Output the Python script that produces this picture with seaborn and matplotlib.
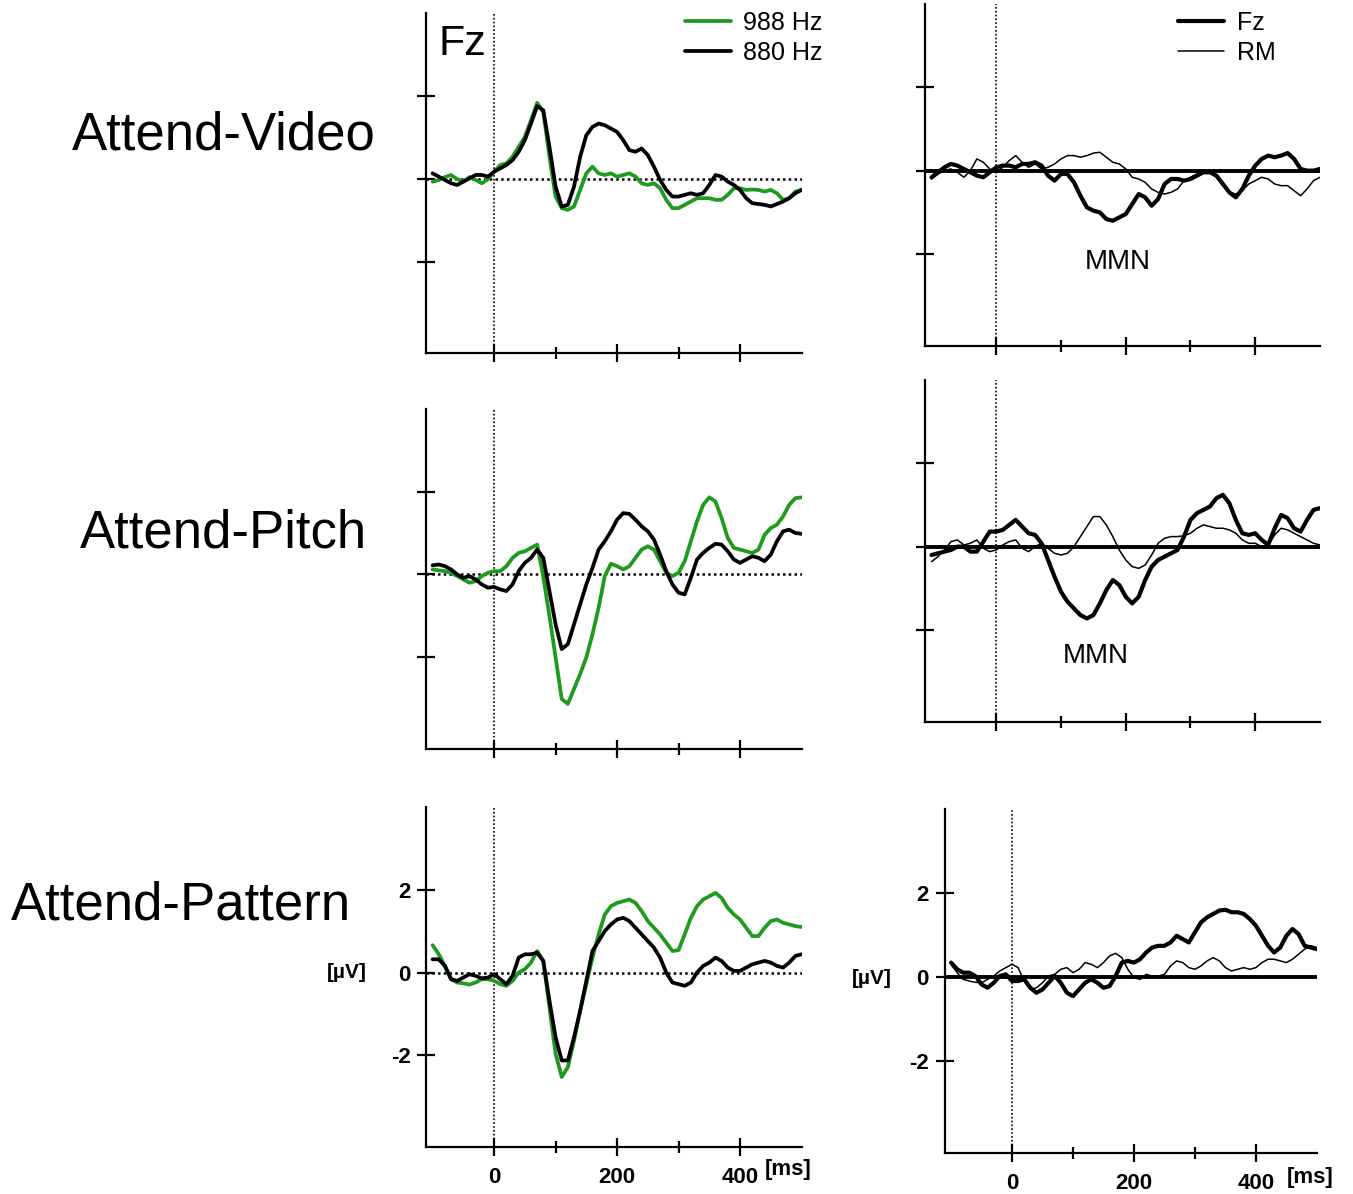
import numpy as np
import pandas as pd
import matplotlib
matplotlib.use("Agg")
import matplotlib.pyplot as plt
import seaborn as sns

# sampling grid of the read-off curves (ms)
times = np.arange(-100, 501, 10)

# Attend-Video, Fz, standard tones
video_988 = [-0.06, -0.02, 0.05, 0.10, 0.00, -0.06, 0.05, -0.02, -0.10, 0.00,
             0.18, 0.34, 0.38, 0.54, 0.78, 1.02, 1.42, 1.84, 1.62, 0.54,
             -0.42, -0.70, -0.74, -0.66, -0.26, 0.14, 0.30, 0.14, 0.10, 0.14,
             0.06, 0.10, 0.14, 0.06, -0.10, -0.14, -0.10, -0.22, -0.50, -0.70,
             -0.70, -0.62, -0.54, -0.46, -0.46, -0.46, -0.50, -0.50, -0.38, -0.22,
             -0.22, -0.26, -0.25, -0.26, -0.30, -0.26, -0.34, -0.50, -0.46, -0.30,
             -0.26]
video_880 = [0.14, 0.06, -0.02, -0.10, -0.14, -0.06, 0.02, 0.10, 0.10, 0.06,
             0.18, 0.26, 0.34, 0.46, 0.66, 0.94, 1.34, 1.76, 1.66, 0.78,
             -0.18, -0.66, -0.62, -0.18, 0.54, 1.06, 1.26, 1.34, 1.30, 1.22,
             1.14, 0.94, 0.70, 0.66, 0.74, 0.58, 0.30, -0.02, -0.26, -0.42,
             -0.42, -0.38, -0.34, -0.38, -0.34, -0.14, 0.10, 0.06, -0.06, -0.14,
             -0.26, -0.46, -0.58, -0.60, -0.62, -0.66, -0.60, -0.54, -0.46, -0.34,
             -0.26]

# Attend-Video, difference waves
video_fz = [-0.16, -0.04, 0.08, 0.16, 0.12, 0.04, -0.04, -0.12, -0.16, -0.04,
            0.08, 0.12, 0.12, 0.08, 0.16, 0.16, 0.20, 0.12, -0.12, -0.24,
            -0.08, -0.08, -0.28, -0.60, -0.88, -0.96, -1.00, -1.16, -1.20, -1.12,
            -1.04, -0.80, -0.56, -0.64, -0.84, -0.68, -0.32, -0.20, -0.20, -0.24,
            -0.20, -0.12, -0.04, -0.04, -0.12, -0.32, -0.52, -0.64, -0.44, -0.12,
            0.12, 0.28, 0.36, 0.32, 0.36, 0.42, 0.28, 0.04, 0.00, 0.00,
            0.04]
video_rm = [-0.20, -0.08, 0.00, 0.04, -0.04, -0.16, 0.00, 0.28, 0.20, 0.04,
            -0.04, 0.08, 0.24, 0.36, 0.20, 0.08, 0.16, 0.04, 0.08, 0.16,
            0.28, 0.36, 0.36, 0.32, 0.36, 0.42, 0.44, 0.32, 0.20, 0.16,
            0.04, -0.16, -0.20, -0.28, -0.44, -0.52, -0.56, -0.52, -0.44, -0.24,
            -0.16, -0.08, -0.04, -0.04, -0.16, -0.36, -0.52, -0.56, -0.48, -0.32,
            -0.24, -0.16, -0.20, -0.32, -0.36, -0.36, -0.48, -0.60, -0.44, -0.24,
            -0.16]

# Attend-Pitch, Fz, standard tones
pitch_988 = [0.12, 0.10, 0.08, 0.04, -0.04, -0.12, -0.20, -0.16, -0.04, 0.04,
             0.08, 0.08, 0.20, 0.40, 0.52, 0.56, 0.64, 0.72, -0.06, -1.00,
             -2.00, -3.00, -3.12, -2.76, -2.40, -2.00, -1.44, -0.80, -0.04, 0.26,
             0.20, 0.12, 0.20, 0.40, 0.60, 0.68, 0.60, 0.32, 0.04, -0.04,
             0.04, 0.32, 0.80, 1.28, 1.68, 1.86, 1.76, 1.36, 0.88, 0.64,
             0.60, 0.56, 0.52, 0.60, 0.96, 1.12, 1.20, 1.40, 1.68, 1.84,
             1.86]
pitch_880 = [0.22, 0.24, 0.20, 0.12, 0.00, -0.08, -0.04, -0.12, -0.24, -0.32,
             -0.30, -0.36, -0.40, -0.24, 0.08, 0.28, 0.40, 0.60, 0.40, -0.40,
             -1.20, -1.80, -1.68, -1.20, -0.72, -0.24, 0.16, 0.60, 0.80, 1.04,
             1.32, 1.48, 1.46, 1.32, 1.16, 1.04, 0.84, 0.48, 0.08, -0.24,
             -0.44, -0.48, -0.08, 0.36, 0.52, 0.64, 0.74, 0.72, 0.56, 0.36,
             0.28, 0.36, 0.44, 0.40, 0.32, 0.48, 0.80, 1.04, 1.08, 1.00,
             0.98]

# Attend-Pitch, difference waves
pitch_fz = [-0.20, -0.16, -0.12, -0.08, 0.00, 0.00, -0.12, -0.12, 0.12, 0.36,
            0.36, 0.40, 0.52, 0.64, 0.48, 0.32, 0.28, 0.08, -0.32, -0.72,
            -1.08, -1.32, -1.48, -1.64, -1.72, -1.64, -1.36, -1.04, -0.80, -0.92,
            -1.20, -1.36, -1.20, -0.80, -0.48, -0.32, -0.24, -0.16, -0.08, 0.24,
            0.64, 0.80, 0.88, 0.96, 1.16, 1.24, 1.04, 0.64, 0.32, 0.28,
            0.32, 0.16, 0.04, 0.44, 0.76, 0.68, 0.44, 0.36, 0.64, 0.88,
            0.92]
pitch_rm = [-0.36, -0.24, -0.08, 0.12, 0.16, 0.04, 0.08, 0.16, -0.04, -0.12,
            -0.08, 0.04, 0.12, 0.16, -0.04, -0.12, 0.00, 0.08, -0.04, -0.16,
            -0.20, -0.16, 0.00, 0.24, 0.48, 0.72, 0.72, 0.52, 0.24, -0.08,
            -0.32, -0.48, -0.52, -0.44, -0.20, 0.08, 0.20, 0.24, 0.24, 0.26,
            0.32, 0.44, 0.52, 0.48, 0.44, 0.44, 0.40, 0.32, 0.16, 0.08,
            0.08, 0.00, 0.04, 0.28, 0.44, 0.40, 0.32, 0.24, 0.16, 0.08,
            0.04]

# Attend-Pattern, Fz, standard tones
pattern_988 = [0.66, 0.44, 0.16, -0.16, -0.24, -0.26, -0.29, -0.24, -0.16, -0.16,
               -0.20, -0.28, -0.32, -0.20, 0.00, 0.08, 0.24, 0.52, 0.28, -0.84,
               -1.96, -2.52, -2.28, -1.64, -0.92, -0.28, 0.36, 0.92, 1.40, 1.60,
               1.68, 1.72, 1.76, 1.68, 1.48, 1.24, 1.08, 0.92, 0.72, 0.52,
               0.54, 0.92, 1.32, 1.60, 1.76, 1.84, 1.92, 1.80, 1.56, 1.40,
               1.28, 1.08, 0.88, 0.88, 1.08, 1.24, 1.28, 1.20, 1.16, 1.12,
               1.10]
pattern_880 = [0.32, 0.32, 0.16, -0.16, -0.20, -0.12, -0.04, -0.08, -0.14, -0.12,
               -0.04, -0.16, -0.28, -0.08, 0.36, 0.44, 0.44, 0.48, 0.28, -0.68,
               -1.56, -2.12, -2.12, -1.56, -0.92, -0.20, 0.52, 0.76, 1.00, 1.16,
               1.28, 1.32, 1.24, 1.08, 0.92, 0.76, 0.60, 0.36, 0.00, -0.24,
               -0.28, -0.32, -0.24, 0.00, 0.16, 0.24, 0.36, 0.28, 0.12, 0.04,
               0.04, 0.12, 0.20, 0.24, 0.28, 0.24, 0.16, 0.12, 0.24, 0.40,
               0.44]

# Attend-Pattern, difference waves
pattern_fz = [0.34, 0.18, 0.10, 0.10, 0.02, -0.18, -0.26, -0.14, 0.02, 0.06,
              -0.10, -0.10, -0.06, -0.26, -0.38, -0.30, -0.14, 0.02, -0.14, -0.38,
              -0.46, -0.30, -0.14, -0.06, -0.14, -0.26, -0.22, 0.02, 0.34, 0.38,
              0.34, 0.42, 0.58, 0.70, 0.74, 0.74, 0.82, 0.98, 0.90, 0.82,
              1.06, 1.30, 1.42, 1.50, 1.58, 1.60, 1.54, 1.54, 1.50, 1.38,
              1.22, 0.98, 0.74, 0.58, 0.70, 0.98, 1.14, 1.02, 0.74, 0.70,
              0.66]
pattern_rm = [0.30, 0.10, -0.06, -0.10, -0.13, -0.14, -0.06, 0.02, 0.14, 0.22,
              0.30, 0.22, -0.10, -0.30, -0.26, -0.14, 0.02, 0.06, 0.18, 0.22,
              0.10, 0.18, 0.34, 0.30, 0.22, 0.34, 0.50, 0.56, 0.46, 0.18,
              -0.02, -0.06, 0.06, 0.02, 0.02, 0.06, 0.26, 0.38, 0.34, 0.22,
              0.18, 0.26, 0.38, 0.46, 0.38, 0.22, 0.14, 0.18, 0.22, 0.18,
              0.22, 0.34, 0.42, 0.42, 0.38, 0.34, 0.42, 0.54, 0.66, 0.74,
              0.70]

row_names = ["Attend-Video", "Attend-Pitch", "Attend-Pattern"]
tone_labels = ["988 Hz", "880 Hz"]
site_labels = ["Fz", "RM"]
y_ticks = [-2, 0, 2]
x_major = [0, 200, 400]
x_minor = [100, 300]

GREEN = "#1f9a1f"

sns.set_theme(style="ticks")
plt.rcParams["font.family"] = ["Liberation Sans", "DejaVu Sans"]
plt.rcParams["text.color"] = "black"
plt.rcParams["axes.unicode_minus"] = False

fig = plt.figure(figsize=(13.53, 11.94), dpi=100)

# axes boxes in figure fraction [left, bottom, width, height]
left_boxes = [[0.3152, 0.7041, 0.2772, 0.2848],
              [0.3152, 0.3730, 0.2772, 0.2848],
              [0.3152, 0.0396, 0.2772, 0.2848]]
right_boxes = [[0.6837, 0.7102, 0.2919, 0.2868],
               [0.6837, 0.3953, 0.2919, 0.2868],
               [0.6984, 0.0343, 0.2749, 0.2881]]

tone_data = [(video_988, video_880), (pitch_988, pitch_880), (pattern_988, pattern_880)]
diff_data = [(video_fz, video_rm), (pitch_fz, pitch_rm), (pattern_fz, pattern_rm)]

legend_kw = dict(loc="upper left", bbox_transform=fig.transFigure, frameon=False,
                 fontsize=18, handlelength=1.85, handletextpad=0.5,
                 labelspacing=0.25, borderpad=0, borderaxespad=0)


def style_axes(ax, show_labels):
    ax.set_xlim(-110, 500)
    ax.set_ylim(-4.2, 4.0)
    sns.despine(ax=ax)
    for side in ["left", "bottom"]:
        ax.spines[side].set_linewidth(1.6)
        ax.spines[side].set_color("black")
    ax.set_xticks(x_major)
    ax.set_xticks(x_minor, minor=True)
    ax.set_yticks(y_ticks)
    ax.tick_params(axis="both", which="major", direction="inout", length=13,
                   width=1.6, color="black", labelsize=16, labelcolor="black")
    ax.tick_params(axis="x", which="minor", direction="inout", length=8,
                   width=1.6, color="black")
    ax.tick_params(axis="x", pad=8)
    ax.tick_params(axis="y", pad=5)
    if show_labels:
        for lab in ax.get_xticklabels() + ax.get_yticklabels():
            lab.set_fontweight("bold")
    else:
        ax.tick_params(labelbottom=False, labelleft=False)
    ax.set_xlabel("")
    ax.set_ylabel("")
    ax.set_facecolor("white")
    ax.axvline(0, color="black", lw=1.2, ls=(0, (1, 1.3)), zorder=1)


for i in range(3):
    bottom_row = i == 2

    # left column: standard tones
    ax = fig.add_axes(left_boxes[i])
    ax.axhline(0, color="black", lw=1.8, ls=(0, (1, 1.3)), zorder=1)
    tone_lines = []
    for values, lab, col in zip(tone_data[i], tone_labels, [GREEN, "black"]):
        sns.lineplot(x=times, y=values, color=col, linewidth=2.7, legend=False,
                     ax=ax, zorder=3, solid_joinstyle="round")
        tone_lines.append(ax.get_lines()[-1])
        tone_lines[-1].set_label(lab)
    style_axes(ax, bottom_row)
    if i == 0:
        ax.text(-90, 3.75, "Fz", fontsize=31, va="top", ha="left")
        ax.legend(handles=tone_lines, bbox_to_anchor=(0.506, 0.991), **legend_kw)
    if bottom_row:
        fig.text(367 / 1353, 1 - 972 / 1194, "[µV]", fontsize=15,
                 fontweight="bold", ha="right", va="center")
        fig.text(765 / 1353, 1 - 1170 / 1194, "[ms]", fontsize=16,
                 fontweight="bold", ha="left", va="center")

    # right column: difference waves
    ax = fig.add_axes(right_boxes[i])
    ax.axhline(0, color="black", lw=2.8, zorder=2)
    site_lines = []
    for values, lab, lw in zip(diff_data[i], site_labels, [3.0, 1.1]):
        sns.lineplot(x=times, y=values, color="black", linewidth=lw,
                     legend=False, ax=ax, zorder=3, solid_joinstyle="round")
        site_lines.append(ax.get_lines()[-1])
        site_lines[-1].set_label(lab)
    style_axes(ax, bottom_row)
    if i == 0:
        ax.text(188, -2.18, "MMN", fontsize=20, ha="center", va="center")
        ax.legend(handles=site_lines, bbox_to_anchor=(0.8707, 0.991), **legend_kw)
    if i == 1:
        ax.text(153, -2.63, "MMN", fontsize=20, ha="center", va="center")
    if bottom_row:
        fig.text(892 / 1353, 1 - 978 / 1194, "[µV]", fontsize=15,
                 fontweight="bold", ha="right", va="center")
        fig.text(1287 / 1353, 1 - 1177 / 1194, "[ms]", fontsize=16,
                 fontweight="bold", ha="left", va="center")

# condition labels on the left
label_pos = [(224, 150), (223, 548), (181, 920)]
for name, (cx, by) in zip(row_names, label_pos):
    fig.text(cx / 1353, 1 - by / 1194, name, fontsize=38, ha="center",
             va="baseline")

fig.savefig("out.png", dpi=100, facecolor="white")
